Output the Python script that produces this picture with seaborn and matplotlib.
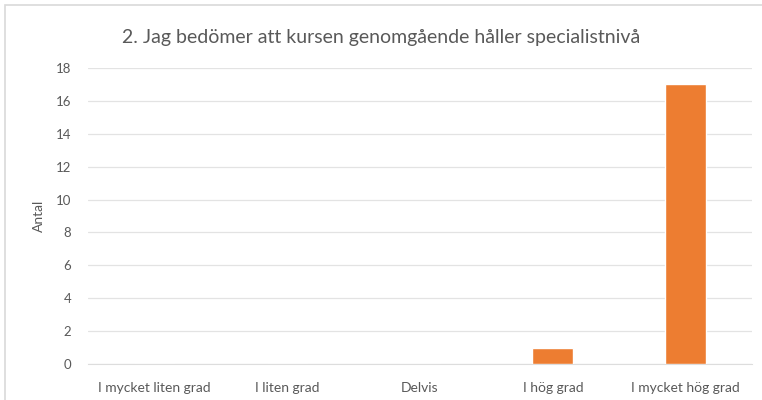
import matplotlib
matplotlib.use('Agg')
import matplotlib.pyplot as plt
import matplotlib.patches as mpatches
import seaborn as sns
import pandas as pd

categories = ['I mycket liten grad', 'I liten grad', 'Delvis', 'I hög grad', 'I mycket hög grad']
counts = [0, 0, 0, 1, 17]
y_ticks = [0, 2, 4, 6, 8, 10, 12, 14, 16, 18]

df = pd.DataFrame({'Svar': categories, 'Antal': counts})

sns.set_style('white')
plt.rcParams['font.family'] = ['Lato', 'DejaVu Sans']

fig = plt.figure(figsize=(7.62, 4.0), dpi=100)
ax = fig.add_axes([0.1155, 0.09, 0.8715, 0.74])

sns.barplot(data=df, x='Svar', y='Antal', color='#ED7D31', width=0.31,
            saturation=1, ax=ax, zorder=3)

ax.set_ylim(0, 18)
ax.set_yticks(y_ticks)
ax.set_xlim(-0.5, 4.5)
ax.grid(axis='y', color='#E3E3E3', linewidth=0.9, zorder=0)
for s in ['top', 'right', 'left']:
    ax.spines[s].set_visible(False)
ax.spines['bottom'].set_color('#DDDDDD')
ax.tick_params(axis='y', length=0, labelsize=9.5, colors='#595959', pad=12)
ax.tick_params(axis='x', length=0, labelsize=10, colors='#595959', pad=13)
ax.set_xlabel('')
ax.set_ylabel('Antal', fontsize=10, color='#595959', labelpad=8)

fig.text(0.5, 0.905, '2. Jag bedömer att kursen genomgående håller specialistnivå',
         ha='center', va='center', fontsize=14, color='#595959')

# outer chart frame
fig.patches.append(mpatches.Rectangle((5 / 762, -0.02), 1.0, 1.0 - 5 / 400 + 0.02,
                                      transform=fig.transFigure, fill=False,
                                      edgecolor='#D9D9D9', linewidth=1.2))

fig.savefig('out.png', dpi=100)
plt.close()
